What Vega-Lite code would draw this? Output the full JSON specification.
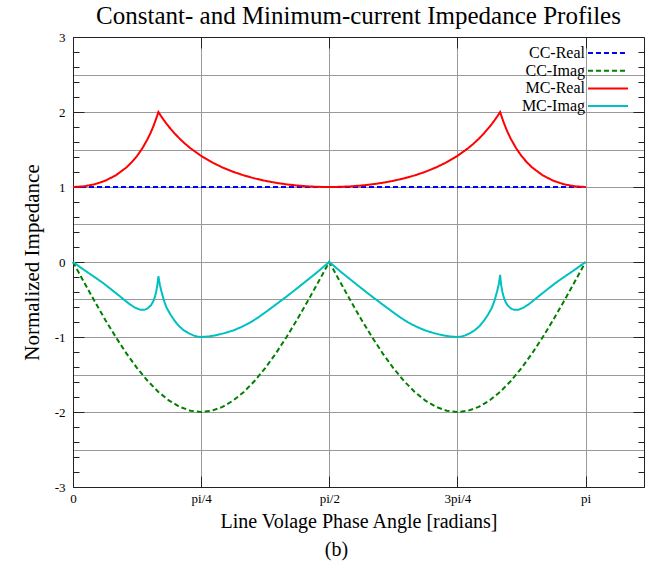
{
  "$schema": "https://vega.github.io/schema/vega-lite/v6.json",
  "width": 571,
  "height": 450,
  "autosize": "none",
  "padding": {"left": 73, "top": 37, "right": 28, "bottom": 80},
  "title": {"text": "Constant- and Minimum-current Impedance Profiles", "font": "Liberation Serif", "fontSize": 25, "fontWeight": "normal", "color": "black", "anchor": "middle", "offset": 2},
  "data": {"values": [
    {"s": "CC-Real", "x": 0, "y": 1}, {"s": "CC-Real", "x": 3.1416, "y": 1},
    {"s": "CC-Imag", "x": 0, "y": 0}, {"s": "CC-Imag", "x": 0.0654, "y": -0.2611}, {"s": "CC-Imag", "x": 0.1309, "y": -0.5176}, {"s": "CC-Imag", "x": 0.1963, "y": -0.7654}, {"s": "CC-Imag", "x": 0.2618, "y": -1.0}, {"s": "CC-Imag", "x": 0.3272, "y": -1.2175}, {"s": "CC-Imag", "x": 0.3927, "y": -1.4142}, {"s": "CC-Imag", "x": 0.4581, "y": -1.5867}, {"s": "CC-Imag", "x": 0.5236, "y": -1.7321}, {"s": "CC-Imag", "x": 0.589, "y": -1.8478}, {"s": "CC-Imag", "x": 0.6545, "y": -1.9319}, {"s": "CC-Imag", "x": 0.7199, "y": -1.9829}, {"s": "CC-Imag", "x": 0.7854, "y": -2.0},
    {"s": "CC-Imag", "x": 0.8508, "y": -1.9829}, {"s": "CC-Imag", "x": 0.9163, "y": -1.9319}, {"s": "CC-Imag", "x": 0.9817, "y": -1.8478}, {"s": "CC-Imag", "x": 1.0472, "y": -1.7321}, {"s": "CC-Imag", "x": 1.1126, "y": -1.5867}, {"s": "CC-Imag", "x": 1.1781, "y": -1.4142}, {"s": "CC-Imag", "x": 1.2435, "y": -1.2175}, {"s": "CC-Imag", "x": 1.309, "y": -1.0}, {"s": "CC-Imag", "x": 1.3744, "y": -0.7654}, {"s": "CC-Imag", "x": 1.4399, "y": -0.5176}, {"s": "CC-Imag", "x": 1.5053, "y": -0.2611}, {"s": "CC-Imag", "x": 1.5708, "y": 0},
    {"s": "CC-Imag", "x": 1.6362, "y": -0.2611}, {"s": "CC-Imag", "x": 1.7017, "y": -0.5176}, {"s": "CC-Imag", "x": 1.7671, "y": -0.7654}, {"s": "CC-Imag", "x": 1.8326, "y": -1.0}, {"s": "CC-Imag", "x": 1.898, "y": -1.2175}, {"s": "CC-Imag", "x": 1.9635, "y": -1.4142}, {"s": "CC-Imag", "x": 2.0289, "y": -1.5867}, {"s": "CC-Imag", "x": 2.0944, "y": -1.7321}, {"s": "CC-Imag", "x": 2.1598, "y": -1.8478}, {"s": "CC-Imag", "x": 2.2253, "y": -1.9319}, {"s": "CC-Imag", "x": 2.2907, "y": -1.9829}, {"s": "CC-Imag", "x": 2.3562, "y": -2.0},
    {"s": "CC-Imag", "x": 2.4216, "y": -1.9829}, {"s": "CC-Imag", "x": 2.4871, "y": -1.9319}, {"s": "CC-Imag", "x": 2.5525, "y": -1.8478}, {"s": "CC-Imag", "x": 2.618, "y": -1.7321}, {"s": "CC-Imag", "x": 2.6834, "y": -1.5867}, {"s": "CC-Imag", "x": 2.7489, "y": -1.4142}, {"s": "CC-Imag", "x": 2.8143, "y": -1.2175}, {"s": "CC-Imag", "x": 2.8798, "y": -1.0}, {"s": "CC-Imag", "x": 2.9452, "y": -0.7654}, {"s": "CC-Imag", "x": 3.0107, "y": -0.5176}, {"s": "CC-Imag", "x": 3.0761, "y": -0.2611}, {"s": "CC-Imag", "x": 3.1416, "y": 0},
    {"s": "MC-Real", "x": 0, "y": 1}, {"s": "MC-Real", "x": 0.0654, "y": 1.0086}, {"s": "MC-Real", "x": 0.1309, "y": 1.0353}, {"s": "MC-Real", "x": 0.1963, "y": 1.0824}, {"s": "MC-Real", "x": 0.2618, "y": 1.1547}, {"s": "MC-Real", "x": 0.3272, "y": 1.2605}, {"s": "MC-Real", "x": 0.36, "y": 1.3301}, {"s": "MC-Real", "x": 0.3927, "y": 1.4142}, {"s": "MC-Real", "x": 0.4254, "y": 1.5166}, {"s": "MC-Real", "x": 0.4581, "y": 1.6427}, {"s": "MC-Real", "x": 0.4745, "y": 1.7167}, {"s": "MC-Real", "x": 0.4909, "y": 1.8}, {"s": "MC-Real", "x": 0.5072, "y": 1.894}, {"s": "MC-Real", "x": 0.5236, "y": 2.0},
    {"s": "MC-Real", "x": 0.5399, "y": 1.9451}, {"s": "MC-Real", "x": 0.5563, "y": 1.8937}, {"s": "MC-Real", "x": 0.5726, "y": 1.8455}, {"s": "MC-Real", "x": 0.589, "y": 1.8}, {"s": "MC-Real", "x": 0.6218, "y": 1.7168}, {"s": "MC-Real", "x": 0.6545, "y": 1.6427}, {"s": "MC-Real", "x": 0.6872, "y": 1.5763}, {"s": "MC-Real", "x": 0.7199, "y": 1.5166}, {"s": "MC-Real", "x": 0.7854, "y": 1.4142}, {"s": "MC-Real", "x": 0.8508, "y": 1.3301}, {"s": "MC-Real", "x": 0.9163, "y": 1.2605}, {"s": "MC-Real", "x": 0.9817, "y": 1.2027}, {"s": "MC-Real", "x": 1.0472, "y": 1.1547}, {"s": "MC-Real", "x": 1.1126, "y": 1.115}, {"s": "MC-Real", "x": 1.1781, "y": 1.0824}, {"s": "MC-Real", "x": 1.2435, "y": 1.056}, {"s": "MC-Real", "x": 1.309, "y": 1.0353}, {"s": "MC-Real", "x": 1.3744, "y": 1.0196}, {"s": "MC-Real", "x": 1.4399, "y": 1.0086}, {"s": "MC-Real", "x": 1.5053, "y": 1.0021}, {"s": "MC-Real", "x": 1.5708, "y": 1},
    {"s": "MC-Real", "x": 1.6362, "y": 1.0021}, {"s": "MC-Real", "x": 1.7017, "y": 1.0086}, {"s": "MC-Real", "x": 1.7671, "y": 1.0196}, {"s": "MC-Real", "x": 1.8326, "y": 1.0353}, {"s": "MC-Real", "x": 1.898, "y": 1.056}, {"s": "MC-Real", "x": 1.9635, "y": 1.0824}, {"s": "MC-Real", "x": 2.0289, "y": 1.115}, {"s": "MC-Real", "x": 2.0944, "y": 1.1547}, {"s": "MC-Real", "x": 2.1598, "y": 1.2027}, {"s": "MC-Real", "x": 2.2253, "y": 1.2605}, {"s": "MC-Real", "x": 2.2907, "y": 1.3301}, {"s": "MC-Real", "x": 2.3562, "y": 1.4142}, {"s": "MC-Real", "x": 2.4216, "y": 1.5166}, {"s": "MC-Real", "x": 2.4544, "y": 1.5763}, {"s": "MC-Real", "x": 2.4871, "y": 1.6427}, {"s": "MC-Real", "x": 2.5198, "y": 1.7168}, {"s": "MC-Real", "x": 2.5525, "y": 1.8}, {"s": "MC-Real", "x": 2.569, "y": 1.8455}, {"s": "MC-Real", "x": 2.5853, "y": 1.8937}, {"s": "MC-Real", "x": 2.6017, "y": 1.9451}, {"s": "MC-Real", "x": 2.618, "y": 2.0},
    {"s": "MC-Real", "x": 2.6344, "y": 1.894}, {"s": "MC-Real", "x": 2.6507, "y": 1.8}, {"s": "MC-Real", "x": 2.6671, "y": 1.7167}, {"s": "MC-Real", "x": 2.6834, "y": 1.6427}, {"s": "MC-Real", "x": 2.7162, "y": 1.5166}, {"s": "MC-Real", "x": 2.7489, "y": 1.4142}, {"s": "MC-Real", "x": 2.7816, "y": 1.3301}, {"s": "MC-Real", "x": 2.8143, "y": 1.2605}, {"s": "MC-Real", "x": 2.8798, "y": 1.1547}, {"s": "MC-Real", "x": 2.9452, "y": 1.0824}, {"s": "MC-Real", "x": 3.0107, "y": 1.0353}, {"s": "MC-Real", "x": 3.0761, "y": 1.0086}, {"s": "MC-Real", "x": 3.1416, "y": 1},
    {"s": "MC-Imag", "x": 0, "y": 0}, {"s": "MC-Imag", "x": 0.05, "y": -0.078}, {"s": "MC-Imag", "x": 0.084, "y": -0.13}, {"s": "MC-Imag", "x": 0.135, "y": -0.205}, {"s": "MC-Imag", "x": 0.186, "y": -0.283}, {"s": "MC-Imag", "x": 0.237, "y": -0.37}, {"s": "MC-Imag", "x": 0.288, "y": -0.458}, {"s": "MC-Imag", "x": 0.32, "y": -0.515}, {"s": "MC-Imag", "x": 0.349, "y": -0.565}, {"s": "MC-Imag", "x": 0.38, "y": -0.608}, {"s": "MC-Imag", "x": 0.41, "y": -0.635}, {"s": "MC-Imag", "x": 0.435, "y": -0.638}, {"s": "MC-Imag", "x": 0.45, "y": -0.628}, {"s": "MC-Imag", "x": 0.461, "y": -0.612}, {"s": "MC-Imag", "x": 0.478, "y": -0.577}, {"s": "MC-Imag", "x": 0.492, "y": -0.525}, {"s": "MC-Imag", "x": 0.502, "y": -0.465}, {"s": "MC-Imag", "x": 0.51, "y": -0.395}, {"s": "MC-Imag", "x": 0.517, "y": -0.31}, {"s": "MC-Imag", "x": 0.5236, "y": -0.19},
    {"s": "MC-Imag", "x": 0.528, "y": -0.25}, {"s": "MC-Imag", "x": 0.533, "y": -0.31}, {"s": "MC-Imag", "x": 0.543, "y": -0.4}, {"s": "MC-Imag", "x": 0.557, "y": -0.51}, {"s": "MC-Imag", "x": 0.574, "y": -0.61}, {"s": "MC-Imag", "x": 0.6, "y": -0.71}, {"s": "MC-Imag", "x": 0.625, "y": -0.79}, {"s": "MC-Imag", "x": 0.65, "y": -0.855}, {"s": "MC-Imag", "x": 0.676, "y": -0.905}, {"s": "MC-Imag", "x": 0.705, "y": -0.945}, {"s": "MC-Imag", "x": 0.737, "y": -0.978}, {"s": "MC-Imag", "x": 0.76, "y": -0.994}, {"s": "MC-Imag", "x": 0.7854, "y": -1.0}, {"s": "MC-Imag", "x": 0.83, "y": -0.993}, {"s": "MC-Imag", "x": 0.88, "y": -0.975}, {"s": "MC-Imag", "x": 0.93, "y": -0.948}, {"s": "MC-Imag", "x": 0.982, "y": -0.913}, {"s": "MC-Imag", "x": 1.033, "y": -0.866}, {"s": "MC-Imag", "x": 1.084, "y": -0.81}, {"s": "MC-Imag", "x": 1.135, "y": -0.74}, {"s": "MC-Imag", "x": 1.186, "y": -0.66}, {"s": "MC-Imag", "x": 1.237, "y": -0.578}, {"s": "MC-Imag", "x": 1.288, "y": -0.495}, {"s": "MC-Imag", "x": 1.339, "y": -0.41}, {"s": "MC-Imag", "x": 1.39, "y": -0.322}, {"s": "MC-Imag", "x": 1.441, "y": -0.234}, {"s": "MC-Imag", "x": 1.492, "y": -0.145}, {"s": "MC-Imag", "x": 1.53, "y": -0.075}, {"s": "MC-Imag", "x": 1.5708, "y": 0},
    {"s": "MC-Imag", "x": 1.6116, "y": -0.075}, {"s": "MC-Imag", "x": 1.6496, "y": -0.145}, {"s": "MC-Imag", "x": 1.7006, "y": -0.234}, {"s": "MC-Imag", "x": 1.7516, "y": -0.322}, {"s": "MC-Imag", "x": 1.8026, "y": -0.41}, {"s": "MC-Imag", "x": 1.8536, "y": -0.495}, {"s": "MC-Imag", "x": 1.9046, "y": -0.578}, {"s": "MC-Imag", "x": 1.9556, "y": -0.66}, {"s": "MC-Imag", "x": 2.0066, "y": -0.74}, {"s": "MC-Imag", "x": 2.0576, "y": -0.81}, {"s": "MC-Imag", "x": 2.1086, "y": -0.866}, {"s": "MC-Imag", "x": 2.1596, "y": -0.913}, {"s": "MC-Imag", "x": 2.2116, "y": -0.948}, {"s": "MC-Imag", "x": 2.2616, "y": -0.975}, {"s": "MC-Imag", "x": 2.3116, "y": -0.993}, {"s": "MC-Imag", "x": 2.3562, "y": -1.0}, {"s": "MC-Imag", "x": 2.3816, "y": -0.994}, {"s": "MC-Imag", "x": 2.4046, "y": -0.978}, {"s": "MC-Imag", "x": 2.4366, "y": -0.945}, {"s": "MC-Imag", "x": 2.4656, "y": -0.905}, {"s": "MC-Imag", "x": 2.4916, "y": -0.855}, {"s": "MC-Imag", "x": 2.5166, "y": -0.79}, {"s": "MC-Imag", "x": 2.5416, "y": -0.71}, {"s": "MC-Imag", "x": 2.5676, "y": -0.61}, {"s": "MC-Imag", "x": 2.5846, "y": -0.51}, {"s": "MC-Imag", "x": 2.5986, "y": -0.4}, {"s": "MC-Imag", "x": 2.6086, "y": -0.31}, {"s": "MC-Imag", "x": 2.6136, "y": -0.25}, {"s": "MC-Imag", "x": 2.618, "y": -0.17},
    {"s": "MC-Imag", "x": 2.6246, "y": -0.31}, {"s": "MC-Imag", "x": 2.6316, "y": -0.395}, {"s": "MC-Imag", "x": 2.6396, "y": -0.465}, {"s": "MC-Imag", "x": 2.6496, "y": -0.525}, {"s": "MC-Imag", "x": 2.6636, "y": -0.577}, {"s": "MC-Imag", "x": 2.6806, "y": -0.612}, {"s": "MC-Imag", "x": 2.6916, "y": -0.628}, {"s": "MC-Imag", "x": 2.7066, "y": -0.638}, {"s": "MC-Imag", "x": 2.7316, "y": -0.635}, {"s": "MC-Imag", "x": 2.7616, "y": -0.608}, {"s": "MC-Imag", "x": 2.7926, "y": -0.565}, {"s": "MC-Imag", "x": 2.8216, "y": -0.515}, {"s": "MC-Imag", "x": 2.8536, "y": -0.458}, {"s": "MC-Imag", "x": 2.9046, "y": -0.37}, {"s": "MC-Imag", "x": 2.9556, "y": -0.283}, {"s": "MC-Imag", "x": 3.0066, "y": -0.205}, {"s": "MC-Imag", "x": 3.0576, "y": -0.13}, {"s": "MC-Imag", "x": 3.0916, "y": -0.078}, {"s": "MC-Imag", "x": 3.1416, "y": 0}
  ]},
  "layer": [
    {
      "mark": {"type": "line", "strokeWidth": 2},
      "encoding": {
        "x": {"field": "x", "type": "quantitative", "scale": {"domain": [0, 3.5], "nice": false, "zero": false},
          "axis": {"orient": "bottom", "values": [0, 0.785398, 1.570796, 2.356194, 3.141593],
            "labelExpr": "datum.value < 0.1 ? '0' : datum.value < 1 ? 'pi/4' : datum.value < 2 ? 'pi/2' : datum.value < 3 ? '3pi/4' : 'pi'",
            "grid": true, "ticks": false, "domain": true, "labelPadding": 5, "labelFlush": false, "labelOverlap": false,
            "title": "Line Volage Phase Angle [radians]", "titlePadding": 6, "titleFontSize": 20}},
        "y": {"field": "y", "type": "quantitative", "scale": {"domain": [-3, 3], "nice": false, "zero": false},
          "axis": {"orient": "left", "values": [-3, -2, -1, 0, 1, 2, 3], "labelExpr": "'' + datum.value",
            "grid": false, "ticks": false, "domain": true, "labelPadding": 8, "labelFlush": false, "labelOverlap": false,
            "title": "Normalized Impedance", "titlePadding": 12, "titleFontSize": 21}},
        "color": {"field": "s", "type": "nominal",
          "scale": {"domain": ["CC-Real", "CC-Imag", "MC-Real", "MC-Imag"], "range": ["#0000ff", "#008000", "#ff0000", "#00c0c0"]},
          "legend": {"orient": "none", "legendX": 527, "legendY": 8, "title": null, "padding": 0, "symbolType": "M-3,0H3", "symbolSize": 178, "symbolStrokeWidth": 2, "labelAlign": "right", "labelOffset": -31, "labelFontSize": 16, "labelColor": "black", "rowPadding": 1.7}},
        "strokeDash": {"field": "s", "type": "nominal",
          "scale": {"domain": ["CC-Real", "CC-Imag", "MC-Real", "MC-Imag"], "range": [[5, 3], [5, 3], [1, 0], [1, 0]]},
          "legend": {"orient": "none", "legendX": 527, "legendY": 8, "title": null, "padding": 0, "symbolType": "M-3,0H3", "symbolSize": 178, "symbolStrokeWidth": 2, "labelAlign": "right", "labelOffset": -31, "labelFontSize": 16, "labelColor": "black", "rowPadding": 1.7}}
      }
    },
    {
      "mark": {"type": "point", "opacity": 0},
      "encoding": {
        "x": {"field": "x", "type": "quantitative", "scale": {"domain": [0, 3.5], "nice": false, "zero": false},
          "axis": {"orient": "bottom", "values": [0, 0.785398, 1.570796, 2.356194, 3.141593], "labels": false, "domain": false, "grid": false, "ticks": true, "tickSize": -11,
            "title": "(b)", "titleX": 263, "titlePadding": 52, "titleFontSize": 20}},
        "y": {"field": "y", "type": "quantitative", "scale": {"domain": [-3, 3], "nice": false, "zero": false},
          "axis": {"orient": "left",
            "values": [-3, -2.8, -2.6, -2.5, -2.4, -2.2, -2, -1.8, -1.6, -1.5, -1.4, -1.2, -1, -0.8, -0.6, -0.5, -0.4, -0.2, 0, 0.2, 0.4, 0.5, 0.6, 0.8, 1, 1.2, 1.4, 1.5, 1.6, 1.8, 2, 2.2, 2.4, 2.5, 2.6, 2.8, 3],
            "labels": false, "domain": false, "grid": true, "title": null,
            "gridOpacity": {"condition": {"test": "abs(datum.value * 2 - round(datum.value * 2)) < 0.01", "value": 1}, "value": 0},
            "tickOpacity": {"condition": {"test": "abs(datum.value * 5 - round(datum.value * 5)) < 0.01", "value": 1}, "value": 0},
            "tickSize": {"condition": {"test": "abs(datum.value - round(datum.value)) < 0.01", "value": -11}, "value": -6}}}
      }
    },
    {
      "mark": {"type": "point", "opacity": 0},
      "encoding": {
        "x": {"field": "x", "type": "quantitative", "scale": {"domain": [0, 3.5], "nice": false, "zero": false},
          "axis": {"orient": "top", "values": [0, 0.785398, 1.570796, 2.356194, 3.141593], "labels": false, "domain": true, "grid": false, "ticks": true, "tickSize": -11, "title": null}},
        "y": {"field": "y", "type": "quantitative", "scale": {"domain": [-3, 3], "nice": false, "zero": false},
          "axis": {"orient": "right",
            "values": [-3, -2.8, -2.6, -2.4, -2.2, -2, -1.8, -1.6, -1.4, -1.2, -1, -0.8, -0.6, -0.4, -0.2, 0, 0.2, 0.4, 0.6, 0.8, 1, 1.2, 1.4, 1.6, 1.8, 2, 2.2, 2.4, 2.6, 2.8, 3],
            "labels": false, "domain": true, "grid": false, "title": null,
            "tickSize": {"condition": {"test": "abs(datum.value - round(datum.value)) < 0.01", "value": -11}, "value": -6}}}
      }
    }
  ],
  "resolve": {"axis": {"x": "independent", "y": "independent"}},
  "config": {
    "font": "Liberation Serif",
    "view": {"stroke": null},
    "axis": {"domainColor": "#222222", "tickColor": "#222222", "labelColor": "black", "titleColor": "black", "titleFontWeight": "normal", "labelFontSize": 13, "gridColor": "#999999", "gridWidth": 1, "labelFont": "Liberation Serif", "titleFont": "Liberation Serif"}
  }
}
